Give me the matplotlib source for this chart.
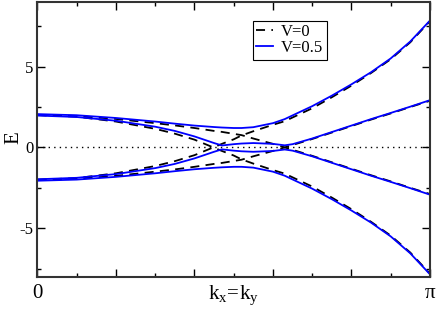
import numpy as np
import matplotlib
matplotlib.use('Agg')
import matplotlib.pyplot as plt
from matplotlib.ticker import FixedLocator, FixedFormatter

plt.rcParams['font.family'] = ['Liberation Serif', 'DejaVu Serif']
plt.rcParams['mathtext.fontset'] = 'custom'
plt.rcParams['mathtext.rm'] = 'Liberation Serif'
plt.rcParams['mathtext.it'] = 'Liberation Serif'
plt.rcParams['axes.unicode_minus'] = False

# k along the diagonal kx=ky, in units of pi
k_frac = [0, 0.1, 0.2, 0.3, 0.35, 0.4, 0.45, 0.47, 0.5, 0.52, 0.55,
          0.6, 0.63, 0.65, 0.7, 0.75, 0.8, 0.85, 0.9, 0.95, 1.0]

# V=0.5, the two upper bands (lower ones are the mirror image)
v05_outer = [2.06, 1.99, 1.82, 1.6, 1.47, 1.35, 1.26, 1.23, 1.2, 1.2, 1.25,
             1.5, 1.75, 1.98, 2.55, 3.2, 3.9, 4.65, 5.5, 6.55, 7.84]
v05_inner = [1.97, 1.88, 1.65, 1.28, 1.02, 0.68, 0.27, 0.12, 0.2, 0.24, 0.27,
             0.22, 0.13, 0.2, 0.55, 0.95, 1.35, 1.75, 2.13, 2.52, 2.92]

# V=0 bands
v0_fast = [-2.0, -1.9, -1.6, -1.15, -0.85, -0.48, 0.02, 0.22, 0.5, 0.74, 1.0,
           1.4, 1.62, 1.85, 2.42, 3.1, 3.82, 4.6, 5.45, 6.5, 7.8]
v0_slow = [2.0, 1.95, 1.76, 1.5, 1.36, 1.2, 1.02, 0.96, 0.84, 0.76, 0.55,
           0.22, 0.0, -0.15, -0.52, -0.92, -1.32, -1.72, -2.1, -2.5, -2.88]

k = np.array(k_frac) * np.pi

fig = plt.figure(figsize=(4.36, 3.11), dpi=100)
ax = fig.add_axes([0.086, 0.110, 0.900, 0.884])

ax.axhline(0, color='black', ls=(0, (1, 3)), lw=1.0)

dash = (0, (5, 3.5))
for i, y in enumerate([v0_fast, v0_slow]):
    y = np.array(y)
    ax.plot(k, y, color='black', ls=dash, lw=1.3, label='V=0' if i == 0 else None)
    ax.plot(k, -y, color='black', ls=dash, lw=1.3)

for i, y in enumerate([v05_outer, v05_inner]):
    y = np.array(y)
    ax.plot(k, y, color='#0000ff', lw=1.3, label='V=0.5' if i == 0 else None)
    ax.plot(k, -y, color='#0000ff', lw=1.3)

ax.set_xlim(0, np.pi)
ax.set_ylim(-8, 9)

# x ticks: major every pi/5, minor every pi/10
ax.xaxis.set_major_locator(FixedLocator(np.arange(0, 1.01, 0.2) * np.pi))
ax.xaxis.set_major_formatter(FixedFormatter(['0', '', '', '', '', 'π']))
ax.xaxis.set_minor_locator(FixedLocator(np.array([0.1, 0.3, 0.5, 0.7, 0.9]) * np.pi))
ax.xaxis.set_minor_formatter(FixedFormatter(['', '', r'$\mathregular{k_x\!=\!k_y}$', '', '']))

ax.set_yticks([-5, 0, 5])
ax.set_yticks([-7.5, -2.5, 2.5, 7.5], minor=True)

ax.tick_params(which='both', direction='in', top=True, right=True, width=1.0)
ax.tick_params(which='major', length=6)
ax.tick_params(which='minor', length=3)
ax.tick_params(axis='x', which='both', labelsize=15, pad=5)
ax.tick_params(axis='y', labelsize=12, pad=3)

for s in ax.spines.values():
    s.set_linewidth(1.5)
    s.set_color('#333333')

ax.set_ylabel('E', fontsize=15)
ax.yaxis.set_label_coords(-0.035, 0.505)

leg = ax.legend(loc='upper left', bbox_to_anchor=(0.549, 0.931), fontsize=12,
                frameon=True, fancybox=False, edgecolor='black', framealpha=1,
                handlelength=1.0, handletextpad=0.5, borderpad=0.2,
                labelspacing=0.0, borderaxespad=0)
leg.get_frame().set_linewidth(0.8)

fig.savefig('out.png', dpi=100)
